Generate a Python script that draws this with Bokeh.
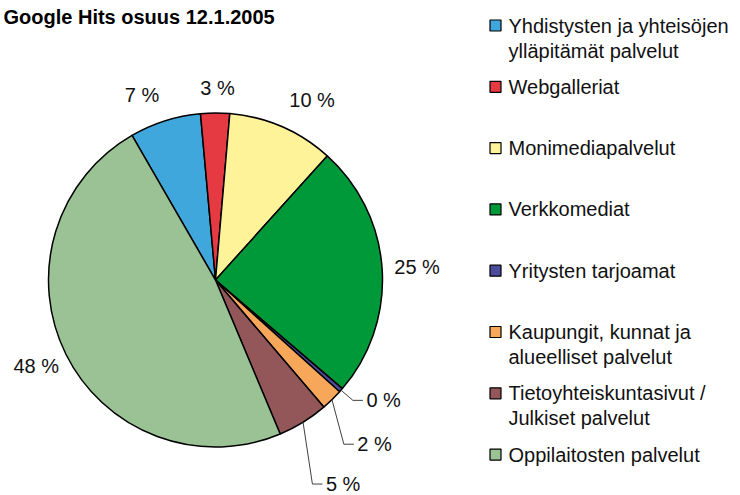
import math
from bokeh.plotting import figure
from bokeh.models import Range1d, ColumnDataSource
from bokeh.core.properties import value
from bokeh.embed import file_html
from bokeh.resources import INLINE

# ---------------- data ----------------
title = "Google Hits osuus 12.1.2005"
categories = [
    "Yhdistysten ja yhteisöjen\nylläpitämät palvelut",
    "Webgalleriat",
    "Monimediapalvelut",
    "Verkkomediat",
    "Yritysten tarjoamat",
    "Kaupungit, kunnat ja\nalueelliset palvelut",
    "Tietoyhteiskuntasivut /\nJulkiset palvelut",
    "Oppilaitosten palvelut",
]
shares = [6.9, 2.8, 10.3, 24.6, 0.4, 2.1, 4.9, 48.0]
colors = ["#3FA7DC", "#E53A42", "#FFF399", "#00993A",
          "#4C4C9E", "#F7A75A", "#935659", "#9AC294"]

# ---------------- layout ----------------
W, H = 740, 495
CX, CY, R = 215, H - 279.5, 167
START = -30.0          # first slice starts 30 deg counter-clockwise from 12 o'clock
label_nudge = [-4.1, 0.7, 4.8, 0.0, -2.7, 3.4, 3.2, 0.7]
label_radius = [199, 192, 204, 202, 193, 217, 232, 199]
leader = [False, False, False, False, True, True, True, False]
FONT = "Liberation Sans"
FS = "20px"

total = sum(shares)
theta0, theta1 = [], []
acc = START
for v in shares:
    theta0.append(acc)
    acc += 360.0 * v / total
    theta1.append(acc)

src = ColumnDataSource(dict(
    start=[math.radians(90 - t) for t in theta1],
    end=[math.radians(90 - t) for t in theta0],
    color=colors,
))

p = figure(width=W, height=H, output_backend="svg", toolbar_location=None,
           x_range=Range1d(0, W), y_range=Range1d(0, H),
           x_axis_type=None, y_axis_type=None, min_border=0,
           background_fill_color="white", border_fill_color="white")
p.grid.visible = False
p.outline_line_color = None

p.wedge(x=CX, y=CY, radius=R, start_angle="start", end_angle="end",
        fill_color="color", line_color="black", line_width=1.5, source=src)

# ---------------- data labels ----------------
mid = [(a + b) / 2 for a, b in zip(theta0, theta1)]
lab_t = [m + n for m, n in zip(mid, label_nudge)]
lx = [CX + r * math.sin(math.radians(t)) for r, t in zip(label_radius, lab_t)]
ly = [CY + r * math.cos(math.radians(t)) for r, t in zip(label_radius, lab_t)]
pct = [f"{round(v)} %" for v in shares]

ci = [i for i in range(len(shares)) if not leader[i]]
li = [i for i in range(len(shares)) if leader[i]]

p.text(x=[lx[i] for i in ci], y=[ly[i] for i in ci], text=[pct[i] for i in ci],
       text_align="center", text_baseline="middle", text_color="#111111",
       text_font=value(FONT), text_font_size=FS)
p.text(x=[lx[i] for i in li], y=[ly[i] for i in li], text=[pct[i] for i in li],
       text_align="left", text_baseline="middle", text_color="#111111",
       text_font=value(FONT), text_font_size=FS)

xs, ys = [], []
for i in li:
    ex = CX + R * math.sin(math.radians(mid[i]))
    ey = CY + R * math.cos(math.radians(mid[i]))
    xs.append([ex, lx[i] - 13.5, lx[i] - 3.5])
    ys.append([ey, ly[i], ly[i]])
p.multi_line(xs=xs, ys=ys, line_color="#404040", line_width=1)

# ---------------- legend ----------------
LEG_SQ_X, LEG_TX, LEG_Y0, LEG_DY, LINE_DY = 495, 508, H - 25, 61.3, 25
leg_y = [LEG_Y0 - i * LEG_DY for i in range(len(categories))]
p.rect(x=[LEG_SQ_X] * len(categories), y=leg_y, width=11, height=11,
       fill_color=colors, line_color="black", line_width=1.2)
first = [c.split("\n")[0] for c in categories]
p.text(x=[LEG_TX] * len(categories), y=leg_y, text=first,
       text_align="left", text_baseline="middle", text_color="#111111",
       text_font=value(FONT), text_font_size=FS)
sec_i = [i for i, c in enumerate(categories) if "\n" in c]
p.text(x=[LEG_TX] * len(sec_i), y=[leg_y[i] - LINE_DY for i in sec_i],
       text=[categories[i].split("\n")[1] for i in sec_i],
       text_align="left", text_baseline="middle", text_color="#111111",
       text_font=value(FONT), text_font_size=FS)

# ---------------- title ----------------
p.text(x=[3], y=[H - 16], text=[title], text_align="left",
       text_baseline="alphabetic", text_color="black", text_font=value(FONT),
       text_font_size="20px", text_font_style="bold")

open("out.html", "w").write(file_html(p, INLINE))
